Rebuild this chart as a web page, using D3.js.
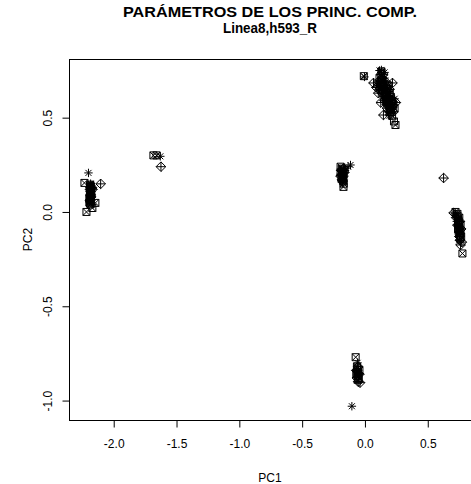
<!DOCTYPE html>
<html><head><meta charset="utf-8">
<script src="https://cdn.jsdelivr.net/npm/d3@7"></script>
<style>body{margin:0;background:#fff}svg{display:block}</style>
</head><body>
<script>
// ---- data ----
const titleLines = ["PARÁMETROS DE LOS PRINC. COMP.", "Linea8,h593_R"];
const xLabel = "PC1";
const yLabel = "PC2";
const xTicks = [-2.0, -1.5, -1.0, -0.5, 0.0, 0.5];
const xTickLabels = ["-2.0", "-1.5", "-1.0", "-0.5", "0.0", "0.5"];
const yTicks = [-1.0, -0.5, 0.0, 0.5];
const yTickLabels = ["-1.0", "-0.5", "0.0", "0.5"];

// points drawn with a boxed cross (pch 7)
const squarePoints = [
  [-2.229,0.154],[-2.213,0.0],[-2.166,0.021],[-2.142,0.048],[-2.185,0.14],[-2.175,0.11],[-2.19,0.07],[-2.18,0.04],[-2.19,0.05],
  [-2.183,0.145],[-2.178,0.135],[-2.183,0.125],[-2.178,0.115],[-2.183,0.105],[-2.178,0.095],[-2.183,0.085],[-2.178,0.075],
  [-2.183,0.065],[-2.178,0.055],[-2.185,0.045],
  [-1.68,0.30],[-1.655,0.30],
  [-0.167,0.133],[-0.19,0.24],[-0.165,0.15],[-0.18,0.23],[-0.19,0.21],[-0.165,0.20],[-0.17,0.18],
  [-0.175,0.225],[-0.17,0.215],[-0.18,0.205],[-0.17,0.195],[-0.18,0.185],[-0.172,0.175],[-0.17,0.165],
  [0.135,0.745],[0.247,0.461],[0.235,0.48],[0.12,0.71],[0.13,0.69],[0.15,0.67],[0.19,0.67],[0.14,0.65],[0.18,0.65],[0.16,0.63],[0.20,0.63],
  [0.17,0.61],[0.21,0.61],[0.18,0.59],[0.22,0.59],[0.19,0.57],[0.23,0.57],[0.20,0.55],[0.24,0.55],[0.21,0.53],[0.22,0.51],[-0.005,0.72],
  [0.135,0.72],[0.14,0.70],[0.145,0.68],[0.155,0.66],[0.165,0.64],[0.175,0.62],[0.185,0.60],[0.195,0.58],[0.205,0.56],[0.21,0.54],
  [0.12,0.68],[0.13,0.66],[0.15,0.64],[0.17,0.60],[0.18,0.58],[0.20,0.60],[0.215,0.58],[0.225,0.56],[0.20,0.53],[0.16,0.68],
  [0.185,0.655],[0.20,0.62],
  [0.78,-0.22],[0.725,0.0],[0.74,-0.01],[0.755,-0.03],[0.75,-0.05],[0.765,-0.07],[0.745,-0.09],[0.765,-0.11],[0.77,-0.13],
  [0.74,-0.02],[0.745,-0.04],[0.75,-0.06],[0.755,-0.08],[0.758,-0.10],[0.76,-0.12],[0.762,-0.14],[0.745,-0.06],[0.75,-0.10],
  [-0.07,-0.77],[-0.06,-0.82],[-0.04,-0.84],[-0.065,-0.86],[-0.045,-0.88],
  [-0.055,-0.83],[-0.052,-0.85],[-0.05,-0.87],[-0.053,-0.89],[-0.058,-0.85]
];
// points drawn with a diamond plus (pch 9)
const diamondPoints = [
  [-2.10,0.149],[-2.17,0.13],[-2.185,0.12],[-2.18,0.09],[-2.175,0.08],[-2.185,0.06],[-2.165,0.12],
  [-1.62,0.24],
  [-0.165,0.23],[-0.185,0.22],[-0.16,0.21],[-0.19,0.19],[-0.175,0.16],[-0.18,0.17],
  [0.072,0.684],[0.223,0.684],[0.151,0.514],[0.095,0.66],[0.11,0.63],[0.13,0.58],[0.15,0.73],[0.14,0.71],[0.11,0.69],[0.17,0.69],
  [0.13,0.67],[0.12,0.65],[0.20,0.65],[0.14,0.63],[0.19,0.61],[0.16,0.59],[0.21,0.57],[0.18,0.55],[0.23,0.53],[0.25,0.58],
  [0.63,0.18],[0.765,-0.175],[0.71,-0.005],[0.73,-0.03],[0.76,-0.05],[0.74,-0.07],[0.77,-0.09],[0.755,-0.13],[0.76,-0.15],[0.775,-0.16],
  [-0.035,-0.905],[-0.05,-0.82],[-0.065,-0.84],[-0.04,-0.86],[-0.05,-0.90],[-0.06,-0.88]
];
// points drawn with an asterisk (pch 8)
const asteriskPoints = [
  [-2.197,0.207],[-2.18,0.15],[-2.19,0.13],[-2.18,0.11],[-2.19,0.11],[-2.185,0.10],[-2.175,0.10],[-2.19,0.09],[-2.17,0.09],
  [-2.185,0.08],[-2.18,0.07],[-2.175,0.06],[-2.17,0.11],[-2.175,0.14],
  [-1.625,0.295],
  [-0.111,0.249],[-0.13,0.24],[-0.17,0.22],[-0.155,0.22],[-0.175,0.21],[-0.19,0.20],[-0.18,0.20],[-0.175,0.19],[-0.16,0.19],[-0.185,0.18],[-0.165,0.17],
  [0.135,0.753],[0.0,0.716],[0.13,0.73],[0.16,0.71],[0.15,0.69],[0.11,0.67],[0.17,0.67],[0.16,0.65],[0.18,0.63],[0.15,0.61],
  [0.20,0.59],[0.17,0.57],[0.22,0.55],[0.19,0.53],[0.20,0.51],[0.24,0.60],[0.12,0.75],[0.16,0.74],
  [0.725,-0.01],[0.745,-0.03],[0.735,-0.05],[0.755,-0.07],[0.76,-0.09],[0.75,-0.11],[0.755,-0.15],
  [-0.10,-1.03],[-0.05,-0.84],[-0.05,-0.86],[-0.055,-0.80]
];

// ---- drawing ----
const W = 471, H = 484;
const box = {left: 69, top: 59, right: 476, bottom: 420};
const font = "'Liberation Sans', Arial, Helvetica, sans-serif";

const x = d3.scaleLinear().domain([-2.352, 0.888]).range([box.left, box.right]);
const y = d3.scaleLinear().domain([-1.103, 0.811]).range([box.bottom, box.top]);

const svg = d3.select("body").append("svg").attr("width", W).attr("height", H)
  .style("font-family", font);

svg.append("rect").attr("width", W).attr("height", H).attr("fill", "#fff");

// plot box
svg.append("rect")
  .attr("x", box.left + 0.5).attr("y", box.top + 0.5)
  .attr("width", box.right - box.left).attr("height", box.bottom - box.top)
  .attr("fill", "none").attr("stroke", "#000").attr("stroke-width", 1);

// x axis
const xAxis = d3.axisBottom(x).tickValues(xTicks)
  .tickFormat((d, i) => xTickLabels[i]).tickSizeOuter(0).tickSizeInner(7).tickPadding(12);
const gx = svg.append("g").attr("transform", `translate(0.5,${box.bottom + 0.5})`).call(xAxis);
gx.select(".domain").attr("d", `M${x(xTicks[0])},0H${x(xTicks[xTicks.length-1])}`);
gx.selectAll("text").attr("font-size", 12).attr("font-family", font).attr("fill", "#000");
gx.selectAll("line,path").attr("stroke", "#000");

// y axis
const yAxis = d3.axisLeft(y).tickValues(yTicks)
  .tickFormat((d, i) => yTickLabels[i]).tickSizeOuter(0).tickSizeInner(7);
const gy = svg.append("g").attr("transform", `translate(${box.left + 0.5},0.5)`).call(yAxis);
gy.select(".domain").attr("d", `M0,${y(yTicks[0])}V${y(yTicks[yTicks.length-1])}`);
gy.selectAll("line,path").attr("stroke", "#000");
gy.selectAll("text")
  .attr("font-size", 12).attr("font-family", font).attr("fill", "#000")
  .attr("x", null).attr("dy", null)
  .attr("text-anchor", "middle")
  .attr("transform", d => `translate(${-box.left + 51},${y(d)}) rotate(-90)`)
  .attr("y", 0);
gy.selectAll(".tick").attr("transform", null);
gy.selectAll(".tick line").attr("y1", d => y(d)).attr("y2", d => y(d));

// axis titles
svg.append("text").attr("x", (box.left + 471) / 2).attr("y", 482)
  .attr("text-anchor", "middle").attr("font-size", 12).text(xLabel);
svg.append("text").attr("transform", `translate(32,${(box.top + box.bottom) / 2}) rotate(-90)`)
  .attr("text-anchor", "middle").attr("font-size", 12).text(yLabel);

// title
const titleSize = [15.5, 14.5];
const titleLen = [294, 94];
svg.selectAll(".title").data(titleLines).join("text")
  .attr("class", "title")
  .attr("x", (box.left + 471) / 2).attr("y", (d, i) => 17 + i * 16)
  .attr("text-anchor", "middle")
  .attr("font-size", (d, i) => titleSize[i]).attr("font-weight", "bold")
  .attr("textLength", (d, i) => titleLen[i]).attr("lengthAdjust", "spacingAndGlyphs")
  .text(d => d);

// markers
const marks = svg.append("g").attr("fill", "none").attr("stroke", "#000").attr("stroke-width", 1);
const sq = 3.5, dm = 4.8, pl = 4.2, cr = 3.0;
const squarePath = `M${-sq},${-sq}H${sq}V${sq}H${-sq}Z M${-sq},${-sq}L${sq},${sq} M${sq},${-sq}L${-sq},${sq}`;
const diamondPath = `M0,${-dm}L${dm},0L0,${dm}L${-dm},0Z M0,${-dm}V${dm} M${-dm},0H${dm}`;
const asteriskPath = `M0,${-pl}V${pl} M${-pl},0H${pl} M${-cr},${-cr}L${cr},${cr} M${cr},${-cr}L${-cr},${cr}`;

function drawSet(points, path) {
  marks.append("g").selectAll("path").data(points).join("path")
    .attr("d", path)
    .attr("transform", d => `translate(${x(d[0])},${y(d[1])})`);
}
drawSet(squarePoints, squarePath);
drawSet(diamondPoints, diamondPath);
drawSet(asteriskPoints, asteriskPath);
</script>
</body></html>
